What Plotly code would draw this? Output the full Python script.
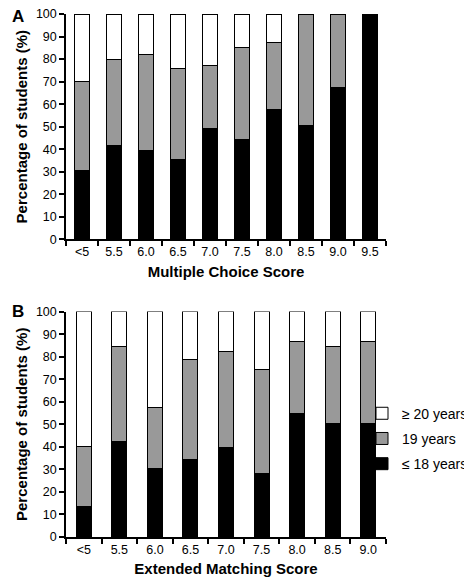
import plotly.graph_objects as go
from plotly.subplots import make_subplots

# Panel A: Multiple Choice Score
mc_categories = ["<5", "5.5", "6.0", "6.5", "7.0", "7.5", "8.0", "8.5", "9.0", "9.5"]
mc_le18 = [30.5, 41.5, 39.5, 35.3, 49.3, 44.4, 57.5, 50.6, 67.6, 100.0]
mc_19 = [39.5, 38.5, 42.5, 40.5, 27.7, 40.6, 29.7, 49.4, 32.4, 0.0]
mc_ge20 = [30.0, 20.0, 18.0, 24.2, 23.0, 15.0, 12.8, 0.0, 0.0, 0.0]

# Panel B: Extended Matching Score
em_categories = ["<5", "5.5", "6.0", "6.5", "7.0", "7.5", "8.0", "8.5", "9.0"]
em_le18 = [13.5, 42.5, 30.6, 34.4, 39.8, 28.2, 54.7, 50.5, 50.5]
em_19 = [26.5, 41.9, 26.7, 44.4, 42.4, 46.1, 31.9, 33.8, 36.1]
em_ge20 = [60.0, 15.6, 42.7, 21.2, 17.8, 25.7, 13.4, 15.7, 13.4]

series_names = ["\u2264 18 years", "19 years", "\u2265 20 years"]
series_colors = ["#000000", "#999999", "#ffffff"]
legend_ranks = [3, 2, 1]

FONT = "Liberation Sans, Arial, sans-serif"

fig = make_subplots(rows=2, cols=1, vertical_spacing=0.138)

panel_data = [
    (1, mc_categories, [mc_le18, mc_19, mc_ge20], 0.47, False),
    (2, em_categories, [em_le18, em_19, em_ge20], 0.42, True),
]

for row, cats, vals, w, show in panel_data:
    for name, color, rank, v in zip(series_names, series_colors, legend_ranks, vals):
        fig.add_trace(
            go.Bar(
                x=cats, y=v, name=name, width=w,
                marker=dict(color=color, line=dict(color="#000000", width=1)),
                showlegend=show, legendgroup=name, legendrank=rank,
            ),
            row=row, col=1,
        )

fig.update_layout(
    barmode="stack",
    width=472, height=580,
    margin=dict(l=58, r=94, t=6, b=51, autoexpand=False),
    paper_bgcolor="white", plot_bgcolor="white",
    font=dict(family=FONT, size=13, color="#000000"),
    legend=dict(
        x=0.925, xanchor="left", y=0.188, yanchor="middle",
        traceorder="grouped", tracegroupgap=4,
        font=dict(size=14), bgcolor="rgba(0,0,0,0)",
    ),
    showlegend=True,
)

fig.update_yaxes(
    range=[0, 100], dtick=10, showgrid=False, zeroline=False,
    showline=True, linecolor="#000000", linewidth=1.5,
    ticks="outside", ticklen=5, tickwidth=1.5, tickcolor="#000000",
    tickfont=dict(size=12.5), ticklabeloverflow="allow",
    title=dict(text="<b>Percentage of students (%)</b>", font=dict(size=15), standoff=5),
)
fig.update_xaxes(
    type="category", showgrid=False, zeroline=False,
    showline=True, linecolor="#000000", linewidth=1.5,
    ticks="outside", ticklen=5, tickwidth=1.5, tickcolor="#000000",
    tickson="boundaries", tickfont=dict(size=12.5),
)
fig.update_xaxes(title=dict(text="<b>Multiple Choice Score</b>", font=dict(size=15), standoff=8), row=1, col=1)
fig.update_xaxes(title=dict(text="<b>Extended Matching Score</b>", font=dict(size=15), standoff=8), row=2, col=1)

fig.add_annotation(text="<b>A</b>", xref="paper", yref="paper", x=-0.15, y=0.995,
                   xanchor="center", yanchor="middle", showarrow=False, font=dict(size=17))
fig.add_annotation(text="<b>B</b>", xref="paper", yref="paper", x=-0.15, y=0.432,
                   xanchor="center", yanchor="middle", showarrow=False, font=dict(size=17))

fig.write_html("out.html")
